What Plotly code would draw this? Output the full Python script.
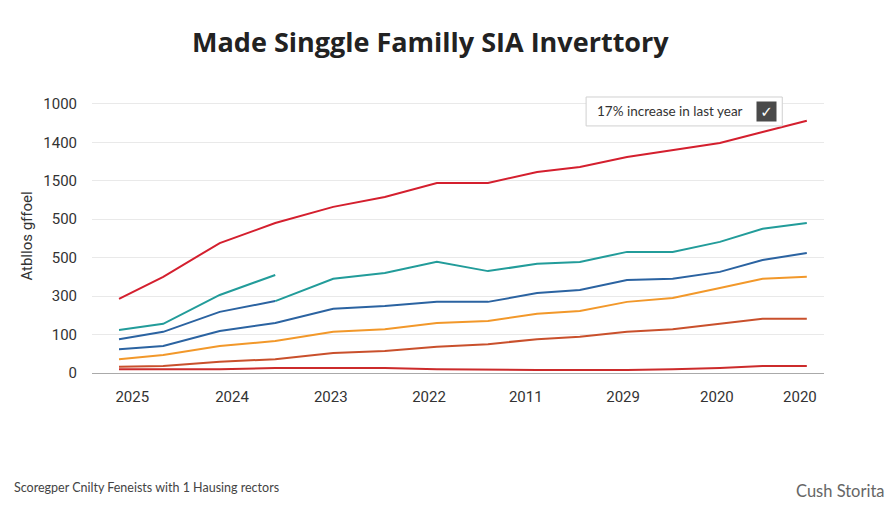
import plotly.graph_objects as go

# x positions of the data vertices (period index)
periods = [0, 0.9, 2.05, 3.18, 4.36, 5.41, 6.47, 7.51, 8.51, 9.38, 10.34, 11.27, 12.23, 13.1, 14.0]

# tick labels
x_tickvals = [0.27, 2.3, 4.31, 6.31, 8.28, 10.26, 12.17, 13.86]
x_ticktext = ["2025", "2024", "2023", "2022", "2011", "2029", "2020", "2020"]
y_tickvals = [0, 1, 2, 3, 4, 5, 6, 7]
y_ticktext = ["0", "100", "300", "500", "500", "1500", "1400", "1000"]

# series values (in axis tick units)
red_top = [1.93, 2.50, 3.38, 3.90, 4.32, 4.58, 4.94, 4.94, 5.23, 5.36, 5.62, 5.80, 5.98, 6.27, 6.56]
teal_short = [1.12, 1.28, 2.03, 2.55, None, None, None, None, None, None, None, None, None, None, None]
blue_upper = [0.88, 1.07, 1.59, 1.87, None, None, None, None, None, None, None, None, None, None, None]
teal_long = [None, None, None, 1.87, 2.45, 2.60, 2.89, 2.65, 2.84, 2.89, 3.15, 3.15, 3.41, 3.75, 3.90]
blue = [0.62, 0.70, 1.09, 1.30, 1.67, 1.74, 1.85, 1.85, 2.08, 2.16, 2.42, 2.45, 2.63, 2.94, 3.12]
orange = [0.36, 0.47, 0.70, 0.83, 1.07, 1.14, 1.30, 1.35, 1.54, 1.61, 1.85, 1.95, 2.21, 2.45, 2.50]
dark_orange = [0.16, 0.18, 0.29, 0.36, 0.52, 0.57, 0.68, 0.75, 0.88, 0.94, 1.07, 1.14, 1.28, 1.41, 1.41]
red_bottom = [0.10, 0.10, 0.10, 0.13, 0.13, 0.13, 0.10, 0.08, 0.08, 0.08, 0.08, 0.10, 0.13, 0.18, 0.18]

series = [
    ("red_bottom", red_bottom, "#cc2b2b"),
    ("dark_orange", dark_orange, "#c9502c"),
    ("orange", orange, "#f2982a"),
    ("blue", blue, "#2b63a1"),
    ("blue_upper", blue_upper, "#2b63a1"),
    ("teal_long", teal_long, "#229c9a"),
    ("teal_short", teal_short, "#229c9a"),
    ("red_top", red_top, "#d41f2e"),
]

fig = go.Figure()
for name, vals, color in series:
    fig.add_trace(go.Scatter(x=periods, y=vals, mode="lines", name=name,
                             line=dict(color=color, width=2), connectgaps=False,
                             showlegend=False))

fig.update_layout(
    width=880, height=496,
    margin=dict(l=84, r=64, t=92, b=131),
    paper_bgcolor="white", plot_bgcolor="white",
    title=dict(text="<b>Made Singgle Familly SIA Inverttory</b>", x=0.48, xref="container",
               xanchor="center", y=0.931, yref="container", yanchor="middle",
               font=dict(family="Open Sans", size=27, color="#222222")),
    font=dict(family="Roboto", color="#333333"),
)
fig.update_xaxes(range=[-0.55, 14.35], tickvals=x_tickvals, ticktext=x_ticktext,
                 showgrid=False, zeroline=False, showline=True, linecolor="#aaaaaa",
                 linewidth=1, ticks="", ticklabelstandoff=10,
                 tickfont=dict(family="Roboto", size=15, color="#333333"))
fig.update_yaxes(range=[0, 7.1], tickvals=y_tickvals, ticktext=y_ticktext,
                 showgrid=True, gridcolor="#e9e9e9", gridwidth=1, zeroline=False,
                 ticks="", ticklabelstandoff=14,
                 tickfont=dict(family="Roboto", size=15, color="#333333"))

# y-axis title
fig.add_annotation(text="Atbllos gffoel", xref="paper", yref="paper", x=-0.09, y=0.5,
                   textangle=-90, showarrow=False, xanchor="center", yanchor="middle",
                   font=dict(family="Roboto", size=15, color="#333333"))

# callout box
fig.add_shape(type="rect", xref="paper", yref="paper", x0=0.675, x1=0.943, y0=0.905, y1=1.011,
              line=dict(color="#d0d0d0", width=1), fillcolor="white", layer="above")
fig.add_annotation(text="17% increase in last year", xref="paper", yref="paper", x=0.687, y=0.958,
                   xanchor="left", yanchor="middle", showarrow=False,
                   font=dict(family="Lato", size=13.5, color="#333333"))
fig.add_annotation(text="✓", xref="paper", yref="paper", x=0.922, y=0.958,
                   xanchor="center", yanchor="middle", showarrow=False,
                   bgcolor="#4a4a4a", width=17, height=17,
                   font=dict(family="DejaVu Sans", size=15, color="white"))

# footer texts
fig.add_annotation(text="Scoregper Cnilty Feneists with 1 Hausing rectors", xref="paper", yref="paper",
                   x=-0.109, y=-0.418, xanchor="left", yanchor="middle", showarrow=False,
                   font=dict(family="Lato", size=12.5, color="#444444"))
fig.add_annotation(text="Cush Storita", xref="paper", yref="paper",
                   x=1.086, y=-0.432, xanchor="right", yanchor="middle", showarrow=False,
                   font=dict(family="Lato", size=16.5, color="#666666"))

fig.write_html("out.html")
